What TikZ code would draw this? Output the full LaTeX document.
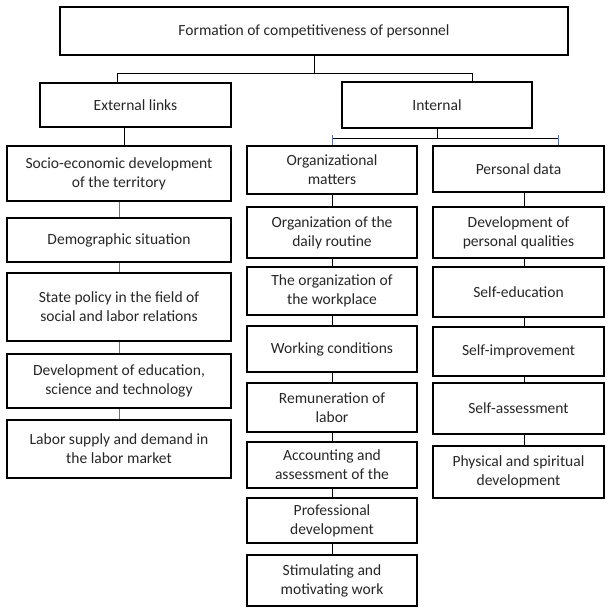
\documentclass[tikz,border=0pt]{standalone}
\usepackage{fontspec}
\setmainfont{Carlito}
\usepackage{tikz}

\definecolor{linkblue}{RGB}{68,114,196}

\begin{document}
\begin{tikzpicture}[x=1bp, y=-1bp,
		main/.style={draw, rectangle, line width=2.8bp, align=center, inner sep=0pt,
			text=black!85, font=\fontsize{15.6}{19}\selectfont},
		colA/.style={main, minimum width=224bp},
		colB/.style={main, minimum width=170bp},
		colC/.style={main, minimum width=171bp},
		lnk/.style={line width=0.9bp},
		stub/.style={line width=0.9bp, draw=linkblue}]
		\useasboundingbox (0,0) rectangle (609,611);

		\node[main, minimum width=508bp, minimum height=48bp] (1) at (314,31) {Formation of competitiveness of personnel};
		\node[main, minimum width=191bp, minimum height=44bp] (2) at (135.5,105) {External links};
		\node[main, minimum width=190bp, minimum height=46bp] (3) at (437,105) {Internal};

		\node[colA, minimum height=55bp] (4) at (119,173.5) {Socio-economic development\\of the territory};
		\node[colA, minimum height=44bp] (5) at (119,240) {Demographic situation};
		\node[colA, minimum height=68bp] (6) at (119,307) {State policy in the field of\\social and labor relations};
		\node[colA, minimum height=54bp] (7) at (119,381) {Development of education,\\science and technology};
		\node[colA, minimum height=58bp] (8) at (119,449) {Labor supply and demand in\\the labor market};

		\node[colB, minimum height=48bp] (9) at (332,170) {Organizational\\matters};
		\node[colB, minimum height=51bp] (10) at (332,232.5) {Organization of the\\daily routine};
		\node[colB, minimum height=48bp] (11) at (332,291) {The organization of\\the workplace};
		\node[colB, minimum height=46bp] (12) at (332,349) {Working conditions};
		\node[colB, minimum height=49bp] (13) at (332,407.5) {Remuneration of\\labor};
		\node[colB, minimum height=46bp] (14) at (332,465) {Accounting and\\assessment of the};
		\node[colB, minimum height=45bp] (15) at (332,520.5) {Professional\\development};
		\node[colB, minimum height=51bp] (16) at (332,580.5) {Stimulating and\\motivating work};

		\node[colC, minimum height=46bp] (17) at (518.5,169) {Personal data};
		\node[colC, minimum height=51bp] (18) at (518.5,232.5) {Development of\\personal qualities};
		\node[colC, minimum height=50bp] (19) at (518.5,292) {Self-education};
		\node[colC, minimum height=49bp] (20) at (518.5,351.5) {Self-improvement};
		\node[colC, minimum height=51bp] (21) at (518.5,408.5) {Self-assessment};
		\node[colC, minimum height=52bp] (22) at (518.5,472) {Physical and spiritual\\development};

		% top level
		\draw[lnk] (1.south) -- ++(0,17) -| ([xshift=-18.5bp]2.north);
		\draw[lnk] (1.south) -- ++(0,17) -| ([xshift=35bp]3.north);
		\draw[lnk] ([xshift=-11bp]2.south) -- ([xshift=-11bp]2.south |- 4.north);
		\draw[lnk] (3.south) -- ++(0,9) -| (9.north);
		\draw[lnk] (3.south) -- ++(0,9) -| ([xshift=40bp]17.north);
		\draw[stub] (9.north) -- ++(0,-10);
		\draw[stub] ([xshift=40bp]17.north) -- ++(0,-10);

		% external column
		\draw[lnk, black!55] (4) to (5);
		\draw[lnk, black!55] (5) to (6);
		\draw[lnk, black!55] (6) to (7);
		\draw[lnk, black!55] (7) to (8);

		% internal columns
		\draw[lnk] (9) to (10);
		\draw[lnk] (10) to (11);
		\draw[lnk] (11) to (12);
		\draw[lnk] (12) to (13);
		\draw[lnk] (13) to (14);
		\draw[lnk] (14) to (15);
		\draw[lnk] (15) to (16);
		\draw[lnk] ([xshift=5.5bp]17.south) to ([xshift=5.5bp]18.north);
		\draw[lnk] ([xshift=5.5bp]18.south) to ([xshift=5.5bp]19.north);
		\draw[lnk] ([xshift=5.5bp]19.south) to ([xshift=5.5bp]20.north);
		\draw[lnk] ([xshift=5.5bp]20.south) to ([xshift=5.5bp]21.north);
		\draw[lnk] ([xshift=5.5bp]21.south) to ([xshift=5.5bp]22.north);
	\end{tikzpicture}
\end{document}
